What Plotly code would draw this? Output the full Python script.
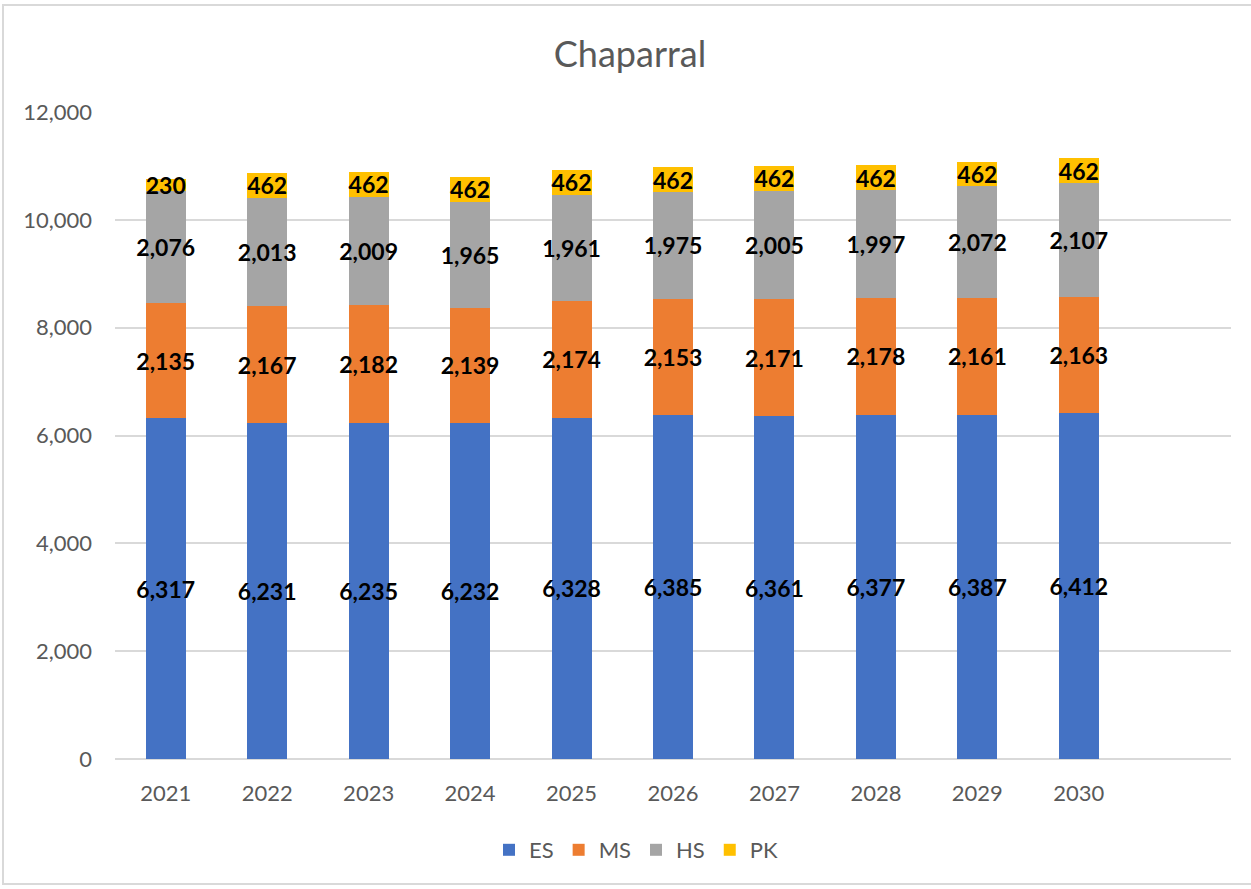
import plotly.graph_objects as go

years = ["2021", "2022", "2023", "2024", "2025", "2026", "2027", "2028", "2029", "2030"]
es = [6317, 6231, 6235, 6232, 6328, 6385, 6361, 6377, 6387, 6412]
ms = [2135, 2167, 2182, 2139, 2174, 2153, 2171, 2178, 2161, 2163]
hs = [2076, 2013, 2009, 1965, 1961, 1975, 2005, 1997, 2072, 2107]
pk = [230, 462, 462, 462, 462, 462, 462, 462, 462, 462]
y_ticks = [0, 2000, 4000, 6000, 8000, 10000, 12000]

series = [("ES", es, "#4472C4"), ("MS", ms, "#ED7D31"), ("HS", hs, "#A5A5A5"), ("PK", pk, "#FFC000")]

FONT = "Lato"
fig = go.Figure()
for name, vals, col in series:
    fig.add_trace(go.Bar(
        x=list(range(len(years))), y=vals, name=name,
        marker=dict(color=col, line=dict(width=0)),
        width=0.395,
        text=[f"{v:,}" for v in vals],
        textposition="inside", insidetextanchor="middle",
        textangle=0, constraintext="none",
        textfont=dict(family=FONT, size=23, color="black", weight="bold"),
        cliponaxis=False,
    ))

fig.update_layout(
    barmode="stack",
    width=1251, height=889,
    margin=dict(l=115, r=20, t=112, b=130),
    paper_bgcolor="white", plot_bgcolor="white",
    title=dict(text="Chaparral", x=630 / 1251, xref="container", xanchor="center",
               y=1 - 54 / 889, yanchor="middle",
               font=dict(family=FONT, size=36, color="#595959")),
    xaxis=dict(range=[-0.5, 10.5], tickmode="array", tickvals=list(range(len(years))),
               ticktext=years, showgrid=False, zeroline=False,
               showline=False, ticks="", ticklabelstandoff=19,
               tickfont=dict(family=FONT, size=22, color="#595959")),
    yaxis=dict(range=[0, 12000], tickmode="array", tickvals=y_ticks,
               ticktext=[f"{v:,}" for v in y_ticks],
               showgrid=True, gridcolor="#D9D9D9", gridwidth=1.5,
               zeroline=True, zerolinecolor="#D9D9D9", zerolinewidth=1.5,
               showline=False, ticks="", ticklabelstandoff=22,
               tickfont=dict(family=FONT, size=22, color="#595959")),
    legend=dict(orientation="h", x=0.5 - 37 / 1116, xanchor="center", y=(759 - 850) / 647, yanchor="middle",
                font=dict(family=FONT, size=22, color="#595959"),
                traceorder="normal", itemwidth=30, bgcolor="rgba(0,0,0,0)"),
    showlegend=True,
    shapes=[dict(type="rect", xref="paper", yref="paper",
                 x0=(3 - 115) / 1116, x1=(1260 - 115) / 1116,
                 y0=(759 - 884) / 647, y1=(759 - 5) / 647,
                 line=dict(color="#D9D9D9", width=2), fillcolor="rgba(0,0,0,0)", layer="below")],
)

fig.write_html("out.html", config={"displayModeBar": False},
               post_script="document.body.style.margin='0';document.body.style.overflow='hidden';")
